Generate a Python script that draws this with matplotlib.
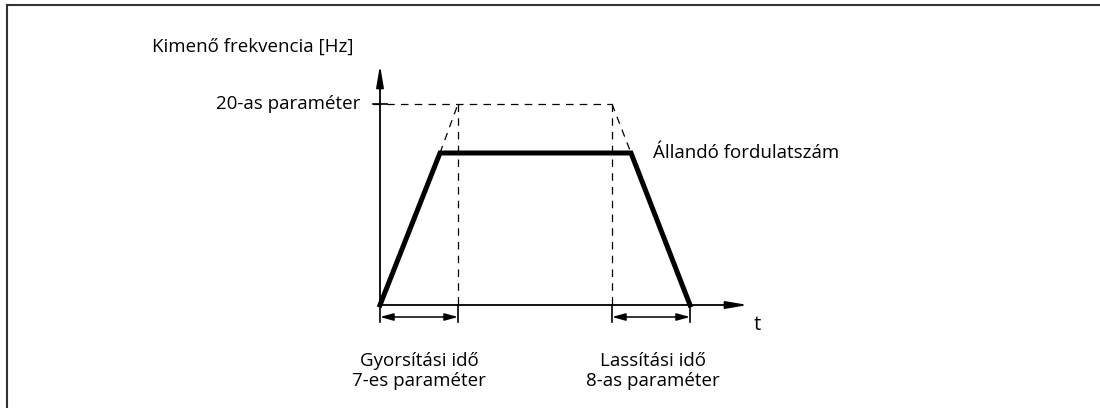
import matplotlib
matplotlib.use('Agg')
import matplotlib.pyplot as plt

plt.rcParams['font.family'] = ['Open Sans', 'DejaVu Sans']

# idő pontok (tetszőleges egység) és frekvencia
t_valos = [0, 60, 251, 310]        # tényleges gyorsítás / lassítás
f_valos = [0, 152, 152, 0]
t_param = [60, 78, 232, 251]       # 20-as paraméter szerinti (szaggatott)
f_param = [152, 201, 201, 152]
f_max = 201
t_gyors_vege = 78
t_lassit_kezd = 232
t_stop = 310

fig = plt.figure(figsize=(11, 4.08), dpi=100)
ax = fig.add_axes([0, 0, 1, 1])
ax.set_xlim(-380, 720)
ax.set_ylim(-103, 305)
ax.axis('off')

# keret (csak felül és bal oldalt)
ax.plot([-373, 720], [300, 300], color='#333333', lw=1.5, clip_on=False)
ax.plot([-373, -373], [300, -103], color='#333333', lw=1.5, clip_on=False)

# tengelyek nyíllal
nyil = dict(arrowstyle='-|>,head_length=1.3,head_width=0.22', color='black', lw=1.3, shrinkA=0, shrinkB=0)
ax.annotate('', xy=(0, 240), xytext=(0, 0), arrowprops=nyil)
ax.annotate('', xy=(368, 0), xytext=(0, 0), arrowprops=nyil)
ax.plot([-7, 7], [f_max, f_max], color='black', lw=1.2)

# szaggatott vonalak
ds = dict(color='black', lw=0.9, linestyle=(0, (6, 5)))
ax.plot([-7, t_lassit_kezd], [f_max, f_max], **ds)
ax.plot(t_param[:2], f_param[:2], **ds)
ax.plot(t_param[2:], f_param[2:], **ds)
ax.plot([t_gyors_vege, t_gyors_vege], [f_max, 0], **ds)
ax.plot([t_lassit_kezd, t_lassit_kezd], [f_max, 0], **ds)

# tényleges görbe
ax.plot(t_valos, f_valos, color='black', lw=3.6, solid_joinstyle='miter')

# méretvonalak
for tt in [0, t_gyors_vege, t_lassit_kezd, t_stop]:
    ax.plot([tt, tt], [0, -17], color='black', lw=1.2)
for a, b in [(0, t_gyors_vege), (t_lassit_kezd, t_stop)]:
    ax.annotate('', xy=(b, -12), xytext=(a, -12),
                arrowprops=dict(arrowstyle='<|-|>,head_length=0.8,head_width=0.22', color='black', lw=1.1, shrinkA=0, shrinkB=0))

fs = 13.5
ax.text(-228, 258, 'Kimenő frekvencia [Hz]', fontsize=fs, ha='left', va='center')
ax.text(-20, f_max, '20-as paraméter', fontsize=fs, ha='right', va='center')
ax.text(273, 152, 'Állandó fordulatszám', fontsize=fs, ha='left', va='center')
ax.text(377, -20, 't', fontsize=fs + 1, ha='center', va='center')
ax.text(t_gyors_vege / 2, -66, 'Gyorsítási idő\n7-es paraméter', fontsize=fs, ha='center', va='center', linespacing=1.2)
ax.text((t_lassit_kezd + t_stop) / 2 + 2, -66, 'Lassítási idő\n8-as paraméter', fontsize=fs, ha='center', va='center', linespacing=1.2)

fig.savefig('out.png', dpi=100)
